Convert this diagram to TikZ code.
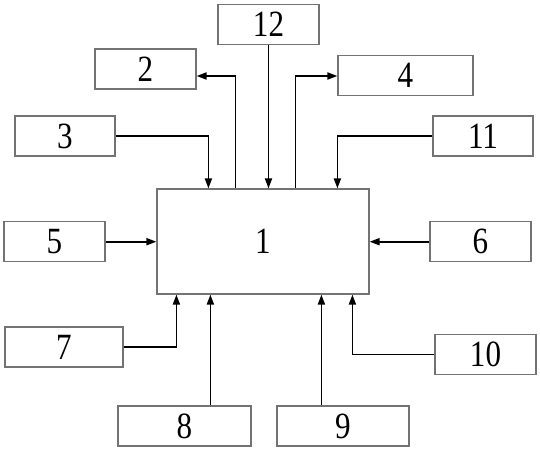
\documentclass[tikz,border=0pt]{standalone}
\usepackage{fontspec}
\setmainfont{Liberation Serif}[FakeStretch=0.84]
\usetikzlibrary{arrows.meta}
\begin{document}
\begin{tikzpicture}[x=1pt,y=-1pt,
  blk/.style={draw=black!55, line width=1.2pt, rectangle, inner sep=0pt,
    minimum height=40pt, font=\fontsize{37}{37}\selectfont},
  arr/.style={draw=black, line width=1.8pt, -{Triangle[length=10pt,width=7pt]}}]
\useasboundingbox (0,0) rectangle (540,450);
% central block
\node[blk, minimum width=212pt, minimum height=105pt] (b1) at (263,241.5) {1};
% surrounding blocks
\node[blk, minimum width=101pt] (b12) at (268.5,24.5) {12};
\node[blk, minimum width=101pt] (b2) at (145.5,69) {2};
\node[blk, minimum width=135pt] (b4) at (405.5,75.5) {4};
\node[blk, minimum width=100pt] (b3) at (65,136) {3};
\node[blk, minimum width=100pt] (b11) at (483,136) {11};
\node[blk, minimum width=101pt] (b5) at (54.5,241.7) {5};
\node[blk, minimum width=101pt] (b6) at (480.5,241.7) {6};
\node[blk, minimum width=118pt] (b7) at (64,347) {7};
\node[blk, minimum width=101pt] (b10) at (485.5,354.5) {10};
\node[blk, minimum width=133pt] (b8) at (184.5,426) {8};
\node[blk, minimum width=132pt] (b9) at (343,426) {9};
% attachment points on block 1
\path (b1.north west) ++(52,0) coordinate (t3);
\path (b1.north west) ++(79,0) coordinate (t2);
\path (b1.north west) ++(139,0) coordinate (t4);
\path (b1.north west) ++(181,0) coordinate (t11);
\path (b1.south west) ++(20,0) coordinate (u7);
\path (b1.south west) ++(54,0) coordinate (u8);
\path (b1.south west) ++(165,0) coordinate (u9);
\path (b1.south west) ++(196,0) coordinate (u10);
\path (b2.east) ++(0,7) coordinate (e2);
\path (b4.west) ++(0,0.5) coordinate (e4);
% connectors
\draw[arr] (b3.east) -| (t3);
\draw[arr] (t2) |- (e2);
\draw[arr] (b12.south) -- (b12.south |- b1.north);
\draw[arr] (t4) |- (e4);
\draw[arr] (b11.west) -| (t11);
\draw[arr] (b5.east) -- (b1.west |- b5.east);
\draw[arr] (b6.west) -- (b1.east |- b6.west);
\draw[arr] (b7.east) -| (u7);
\draw[arr] (b8.north -| u8) -- (u8);
\draw[arr] (b9.north -| u9) -- (u9);
\draw[arr] (b10.west) -| (u10);
\end{tikzpicture}
\end{document}
